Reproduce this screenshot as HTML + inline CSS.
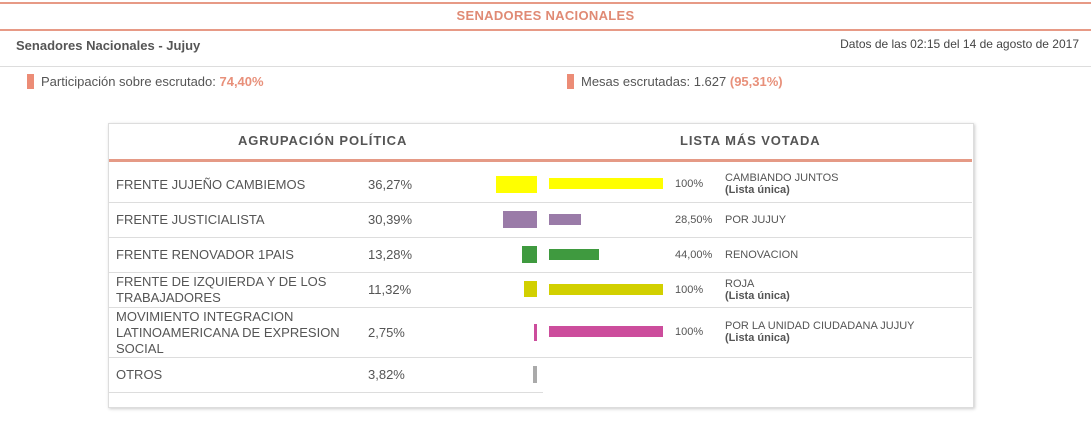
<!DOCTYPE html>
<html><head><meta charset="utf-8"><style>
body{margin:0;width:1091px;height:429px;background:#fff;font-family:"Liberation Sans",sans-serif;position:relative;overflow:hidden;color:#555}
div,span{position:absolute}
.t{font-size:13px;color:#555;white-space:nowrap}
.s{font-size:11px;color:#555;white-space:nowrap;line-height:12px}
.h{height:1px;background:#ddd}
</style></head><body>
<div style="left:0;top:2px;width:1091px;height:2px;background:#e79a86"></div>
<div style="left:0;top:8px;width:1091px;text-align:center;font-size:13px;font-weight:bold;color:#e08a74;letter-spacing:0.3px">SENADORES NACIONALES</div>
<div style="left:0;top:29px;width:1091px;height:2px;background:#e79a86"></div>
<div style="left:16px;top:38px;font-size:13px;font-weight:bold;color:#555">Senadores Nacionales - Jujuy</div>
<div style="right:12px;top:37px;font-size:12px;color:#444">Datos de las 02:15 del 14 de agosto de 2017</div>
<div style="left:0;top:66px;width:1091px" class="h"></div>
<div style="left:27px;top:74px;width:7px;height:15px;background:#ec8c76"></div>
<div class="t" style="left:41px;top:74px">Participación sobre escrutado: <b style="color:#e8907a">74,40%</b></div>
<div style="left:567px;top:74px;width:7px;height:15px;background:#ec8c76"></div>
<div class="t" style="left:581px;top:74px">Mesas escrutadas: 1.627 <b style="color:#e8907a">(95,31%)</b></div>
<div style="left:108px;top:123px;width:864px;height:283px;border:1px solid #ddd;box-shadow:1px 1px 3px #ccc"></div>
<div style="left:238px;top:133px;font-size:13px;font-weight:bold;color:#555;letter-spacing:0.9px">AGRUPACIÓN POLÍTICA</div>
<div style="left:680px;top:133px;font-size:13px;font-weight:bold;color:#555;letter-spacing:0.9px">LISTA MÁS VOTADA</div>
<div style="left:109px;top:159px;width:863px;height:3px;background:#e59a86"></div>
<div class="h" style="left:109px;top:202px;width:863px"></div>
<div class="h" style="left:109px;top:237px;width:863px"></div>
<div class="h" style="left:109px;top:272px;width:863px"></div>
<div class="h" style="left:109px;top:307px;width:863px"></div>
<div class="h" style="left:109px;top:357px;width:863px"></div>
<div class="h" style="left:109px;top:392px;width:434px"></div>
<div class="t" style="left:116px;top:177px">FRENTE JUJEÑO CAMBIEMOS</div><div class="t" style="left:368px;top:177px">36,27%</div>
<div class="t" style="left:116px;top:212px">FRENTE JUSTICIALISTA</div><div class="t" style="left:368px;top:212px">30,39%</div>
<div class="t" style="left:116px;top:247px">FRENTE RENOVADOR 1PAIS</div><div class="t" style="left:368px;top:247px">13,28%</div>
<div class="t" style="left:116px;top:274px;line-height:16px">FRENTE DE IZQUIERDA Y DE LOS<br>TRABAJADORES</div><div class="t" style="left:368px;top:282px">11,32%</div>
<div class="t" style="left:116px;top:309px;line-height:16px">MOVIMIENTO INTEGRACION<br>LATINOAMERICANA DE EXPRESION<br>SOCIAL</div><div class="t" style="left:368px;top:325px">2,75%</div>
<div class="t" style="left:116px;top:367px">OTROS</div><div class="t" style="left:368px;top:367px">3,82%</div>
<div style="left:496px;top:176px;width:41px;height:17px;background:#ffff00"></div>
<div style="left:503px;top:211px;width:34px;height:17px;background:#9a7ba8"></div>
<div style="left:522px;top:246px;width:15px;height:17px;background:#3f9a3f"></div>
<div style="left:524px;top:281px;width:13px;height:16px;background:#d2d000"></div>
<div style="left:534px;top:324px;width:3px;height:17px;background:#cc4d9c"></div>
<div style="left:533px;top:366px;width:4px;height:17px;background:#aaa"></div>
<div style="left:549px;top:178px;width:114px;height:11px;background:#ffff00"></div>
<div style="left:549px;top:214px;width:32px;height:11px;background:#9a7ba8"></div>
<div style="left:549px;top:249px;width:50px;height:11px;background:#3f9a3f"></div>
<div style="left:549px;top:284px;width:114px;height:11px;background:#d2d000"></div>
<div style="left:549px;top:326px;width:114px;height:11px;background:#cc4d9c"></div>
<div class="s" style="left:675px;top:178px">100%</div><div class="s" style="left:725px;top:172px">CAMBIANDO JUNTOS<br><b>(Lista única)</b></div>
<div class="s" style="left:675px;top:214px">28,50%</div><div class="s" style="left:725px;top:214px">POR JUJUY</div>
<div class="s" style="left:675px;top:249px">44,00%</div><div class="s" style="left:725px;top:249px">RENOVACION</div>
<div class="s" style="left:675px;top:284px">100%</div><div class="s" style="left:725px;top:278px">ROJA<br><b>(Lista única)</b></div>
<div class="s" style="left:675px;top:326px">100%</div><div class="s" style="left:725px;top:320px">POR LA UNIDAD CIUDADANA JUJUY<br><b>(Lista única)</b></div>
</body></html>
